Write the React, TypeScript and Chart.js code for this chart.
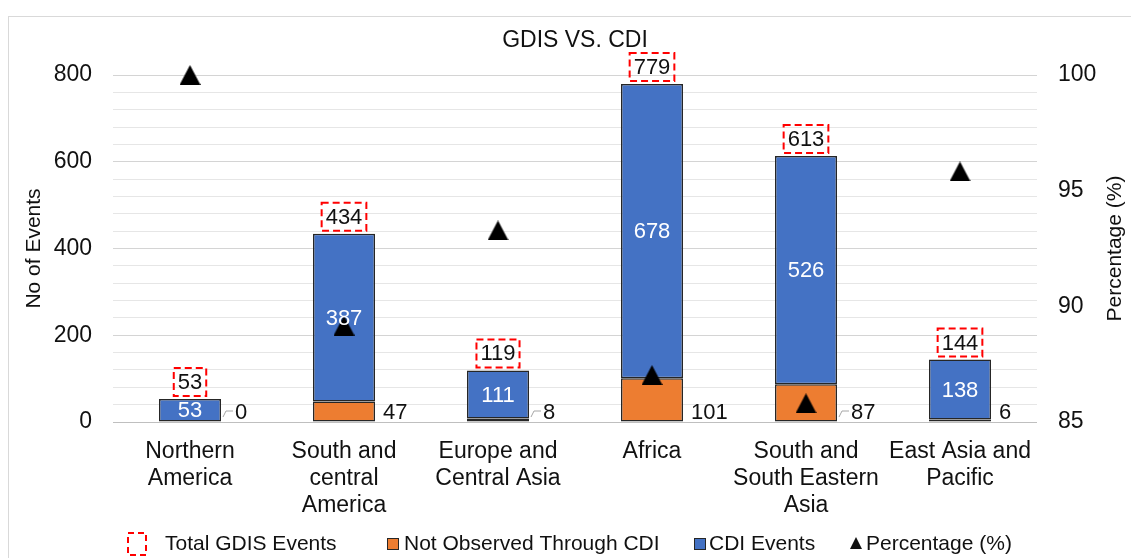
import React, { useEffect, useRef } from "react";
import { Chart, registerables } from "chart.js";

Chart.register(...registerables);

const categories: string[][] = [
  ["Northern", "America"],
  ["South and", "central", "America"],
  ["Europe and", "Central Asia"],
  ["Africa"],
  ["South and", "South Eastern", "Asia"],
  ["East Asia and", "Pacific"],
];
const notObserved = [0, 47, 8, 101, 87, 6];
const cdiEvents = [53, 387, 111, 678, 526, 138];
const totalEvents = [53, 434, 119, 779, 613, 144];
const percentage = [100, 89.17, 93.28, 87.03, 85.81, 95.83];

const chartTitle = "GDIS VS. CDI";
const leftAxisTitle = "No of Events";
const rightAxisTitle = "Percentage (%)";
const legendLabels = ["Total GDIS Events", "Not Observed Through CDI", "CDI Events", "Percentage (%)"];

const leaderLines = [true, false, true, false, true, false];

const FONT = "'Liberation Sans', Arial, sans-serif";
const BLUE = "#4472C4";
const ORANGE = "#ED7D31";
const TEXT = "#111111";

function makeTriangle(w: number, h: number): HTMLCanvasElement {
  const c = document.createElement("canvas");
  c.width = w;
  c.height = h;
  const g = c.getContext("2d")!;
  g.fillStyle = "#000";
  g.beginPath();
  g.moveTo(w / 2, 0);
  g.lineTo(w, h);
  g.lineTo(0, h);
  g.closePath();
  g.fill();
  return c;
}

const overlayPlugin = {
  id: "overlay",
  beforeDraw(chart: any) {
    const ctx = chart.ctx;
    ctx.save();
    ctx.strokeStyle = "#d9d9d9";
    ctx.lineWidth = 1;
    ctx.strokeRect(8.5, 16.5, 1400, 800);
    ctx.restore();
  },
  afterDraw(chart: any) {
    const ctx = chart.ctx;
    const area = chart.chartArea;
    const yScale = chart.scales.y;
    const blueMeta = chart.getDatasetMeta(1);
    ctx.save();

    // title
    ctx.fillStyle = TEXT;
    ctx.font = `23px ${FONT}`;
    ctx.textAlign = "center";
    ctx.textBaseline = "middle";
    ctx.fillText(chartTitle, (area.left + area.right) / 2, 41);

    // right axis title
    ctx.save();
    ctx.translate(1115, (area.top + area.bottom) / 2);
    ctx.rotate(-Math.PI / 2);
    ctx.font = `21px ${FONT}`;
    ctx.fillText(rightAxisTitle, 0, 0);
    ctx.restore();

    const zeroY = yScale.getPixelForValue(0);
    blueMeta.data.forEach((bar: any, i: number) => {
      const x = bar.x;
      const top = bar.y;
      const base = bar.base;
      const half = bar.width / 2;

      // CDI events label inside blue segment
      ctx.font = `22px ${FONT}`;
      ctx.fillStyle = "#ffffff";
      ctx.textAlign = "center";
      ctx.textBaseline = "middle";
      ctx.fillText(String(cdiEvents[i]), x, (top + base) / 2 + 1);

      // total label in dashed red box
      const txt = String(totalEvents[i]);
      const tw = ctx.measureText(txt).width;
      const bw = tw + 8;
      const bh = 28;
      const by = top - 3 - bh;
      ctx.fillStyle = TEXT;
      ctx.fillText(txt, x, by + bh / 2 + 1);
      ctx.save();
      ctx.strokeStyle = "#FF0000";
      ctx.lineWidth = 2;
      ctx.setLineDash([7, 4]);
      ctx.strokeRect(x - bw / 2, by, bw, bh);
      ctx.restore();

      // not observed label to the right
      const right = x + half;
      const ly = zeroY - 10;
      const lead = leaderLines[i];
      const lx = right + (lead ? 14 : 8);
      ctx.textAlign = "left";
      ctx.fillStyle = TEXT;
      ctx.fillText(String(notObserved[i]), lx, ly + 1);
      if (lead) {
        ctx.save();
        ctx.strokeStyle = "#a6a6a6";
        ctx.lineWidth = 1;
        ctx.beginPath();
        ctx.moveTo(right + 2, ly + 5);
        ctx.lineTo(right + 5, ly - 1);
        ctx.lineTo(lx - 2, ly - 1);
        ctx.stroke();
        ctx.restore();
      }
    });

    // legend
    const ly = 544;
    ctx.font = `21px ${FONT}`;
    ctx.textAlign = "left";
    ctx.textBaseline = "middle";
    ctx.fillStyle = TEXT;
    ctx.save();
    ctx.strokeStyle = "#FF0000";
    ctx.lineWidth = 2;
    ctx.setLineDash([6, 4]);
    ctx.strokeRect(128, ly - 11, 18, 22);
    ctx.restore();
    ctx.fillText(legendLabels[0], 165, ly);
    ctx.fillStyle = ORANGE;
    ctx.fillRect(387, ly - 6, 12, 12);
    ctx.strokeStyle = "#262626";
    ctx.lineWidth = 1;
    ctx.strokeRect(387.5, ly - 5.5, 11, 11);
    ctx.fillStyle = TEXT;
    ctx.fillText(legendLabels[1], 404, ly);
    ctx.fillStyle = BLUE;
    ctx.fillRect(694, ly - 6, 12, 12);
    ctx.strokeRect(694.5, ly - 5.5, 11, 11);
    ctx.fillStyle = TEXT;
    ctx.fillText(legendLabels[2], 709, ly);
    ctx.beginPath();
    ctx.moveTo(856, ly - 7);
    ctx.lineTo(862, ly + 5);
    ctx.lineTo(850, ly + 5);
    ctx.closePath();
    ctx.fill();
    ctx.fillText(legendLabels[3], 866, ly);

    ctx.restore();
  },
};

export default function App() {
  const ref = useRef<HTMLCanvasElement>(null);
  useEffect(() => {
    if (!ref.current) return;
    const tri = makeTriangle(21, 20);
    const chart = new Chart(ref.current, {
      type: "bar",
      data: {
        labels: categories,
        datasets: [
          {
            type: "bar",
            label: legendLabels[1],
            data: notObserved,
            backgroundColor: ORANGE,
            borderColor: "#262626",
            borderWidth: 1.5,
            borderSkipped: false,
            stack: "s",
            yAxisID: "y",
            order: 1,
            barPercentage: 0.4026,
            categoryPercentage: 1,
          },
          {
            type: "bar",
            label: legendLabels[2],
            data: cdiEvents,
            backgroundColor: BLUE,
            borderColor: "#262626",
            borderWidth: 1.5,
            borderSkipped: false,
            stack: "s",
            yAxisID: "y",
            order: 1,
            barPercentage: 0.4026,
            categoryPercentage: 1,
          },
          {
            type: "line",
            label: legendLabels[3],
            data: percentage,
            showLine: false,
            clip: false,
            pointStyle: tri as any,
            pointRadius: 10,
            pointHoverRadius: 10,
            backgroundColor: "#000",
            borderColor: "#000",
            yAxisID: "y1",
            order: 0,
          },
        ],
      },
      options: {
        animation: false,
        responsive: false,
        layout: { padding: { top: 75, left: 0, right: 0, bottom: 0 } },
        plugins: {
          legend: { display: false },
          title: { display: false },
          tooltip: { enabled: false },
        },
        scales: {
          x: {
            stacked: true,
            grid: { display: false, drawTicks: false },
            border: { display: false },
            ticks: {
              color: TEXT,
              font: { family: FONT, size: 23, lineHeight: 1.17 },
              padding: 16,
              maxRotation: 0,
              autoSkip: false,
            },
            afterFit: (s: any) => {
              s.height = 136;
            },
          },
          y: {
            stacked: true,
            position: "left",
            min: 0,
            max: 800,
            grid: {
              drawTicks: false,
              color: (c: any) => (c.tick && c.tick.value === 0 ? "#bfbfbf" : c.tick && c.tick.value % 200 === 0 ? "#d4d4d4" : "#e6e6e6"),
              lineWidth: 1,
            },
            border: { display: false },
            ticks: {
              stepSize: 40,
              autoSkip: false,
              padding: 21,
              color: TEXT,
              font: { family: FONT, size: 23 },
              callback: (v: any) => (Number(v) % 200 === 0 ? String(v) : ""),
            },
            title: {
              display: true,
              text: leftAxisTitle,
              color: TEXT,
              font: { family: FONT, size: 21, lineHeight: 1.2 },
              padding: { top: 22, bottom: 0 },
            },
            afterFit: (s: any) => {
              s.width = 113;
            },
          },
          y1: {
            position: "right",
            min: 85,
            max: 100,
            grid: { drawOnChartArea: false, drawTicks: false },
            border: { display: false },
            ticks: {
              stepSize: 5,
              padding: 21,
              color: TEXT,
              font: { family: FONT, size: 23 },
            },
            afterFit: (s: any) => {
              s.width = 94;
            },
          },
        },
      },
      plugins: [overlayPlugin],
    });
    return () => chart.destroy();
  }, []);
  return (
    <div style={{ position: "absolute", left: 0, top: 0, width: 1131, height: 558, background: "#fff" }}>
      <canvas ref={ref} width={1131} height={558} style={{ width: 1131, height: 558, display: "block" }} />
    </div>
  );
}
